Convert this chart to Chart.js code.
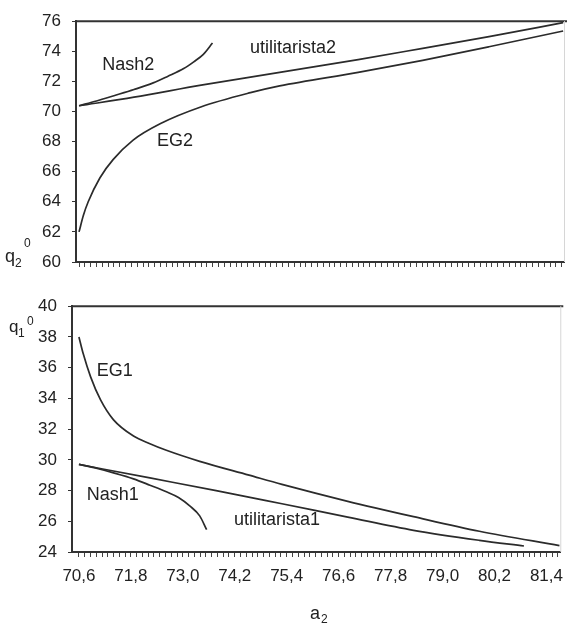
<!DOCTYPE html>
<html>
<head>
<meta charset="utf-8">
<script src="https://cdn.jsdelivr.net/npm/chart.js@4.4.0/dist/chart.umd.min.js"></script>
<style>
  html, body { margin: 0; padding: 0; background: #fff; }
  #wrap { position: relative; width: 567px; height: 624px; }
  .box { position: absolute; left: 0; width: 567px; }
</style>
</head>
<body>
<div id="wrap">
  <div class="box" style="top:0;height:285px"><canvas id="chartTop"></canvas></div>
  <div class="box" style="top:285px;height:339px"><canvas id="chartBottom"></canvas></div>
</div>
<script>
// x axis (a2)
const xTickLabels = ['70,6', '71,8', '73,0', '74,2', '75,4', '76,6', '77,8', '79,0', '80,2', '81,4'];
const xTickStart = 70.6;
const xTickStep = 1.2;
const minorPerLabel = 9;

// y axis ticks
const q2Ticks = [60, 62, 64, 66, 68, 70, 72, 74, 76];
const q1Ticks = [24, 26, 28, 30, 32, 34, 36, 38, 40];

// top panel: q2
const nash2A = [70.6, 71.0, 71.4, 71.86, 72.3, 72.63, 73.0, 73.23, 73.45, 73.66];
const nash2Q = [70.38, 70.7, 71.05, 71.46, 71.9, 72.33, 72.85, 73.3, 73.8, 74.55];
const util2A = [70.6, 71.86, 73.4, 75.2, 77.0, 78.48, 80.0, 81.7];
const util2Q = [70.38, 70.95, 71.75, 72.6, 73.45, 74.2, 74.98, 75.9];
const eg2A = [70.6, 70.7, 70.81, 71.08, 71.38, 71.84, 72.47, 73.39, 74.53, 75.2, 77.0, 78.48, 80.0, 81.7];
const eg2Q = [62.0, 63.1, 64.0, 65.6, 66.8, 68.1, 69.2, 70.3, 71.25, 71.7, 72.6, 73.4, 74.3, 75.35];

// bottom panel: q1
const eg1A = [70.6, 70.7, 70.87, 71.1, 71.4, 71.86, 72.24, 72.62, 73.39, 74.53, 75.29, 76.81, 78.33, 79.85, 81.7];
const eg1Q = [38.0, 36.9, 35.4, 33.9, 32.6, 31.55, 31.05, 30.62, 29.9, 29.0, 28.4, 27.3, 26.3, 25.35, 24.42];
const util1A = [70.6, 72.24, 73.77, 75.29, 76.81, 78.33, 79.85, 80.88];
const util1Q = [29.7, 28.82, 28.0, 27.14, 26.27, 25.41, 24.76, 24.39];
const nash1A = [70.6, 71.0, 71.4, 71.86, 72.24, 72.62, 72.9, 73.16, 73.39, 73.55];
const nash1Q = [29.7, 29.45, 29.15, 28.76, 28.35, 27.92, 27.55, 27.0, 26.35, 25.45];

const FONT = "'Liberation Sans', Arial, sans-serif";
const INK = '#222';
const LINE = '#2b2b2b';

Chart.defaults.font.family = FONT;
Chart.defaults.font.size = 17;
Chart.defaults.color = INK;

function zip(a, q) {
  return a.map((v, i) => ({ x: v, y: q[i] }));
}

function series(a, q) {
  return {
    data: zip(a, q),
    borderColor: LINE,
    borderWidth: 1.7,
    pointRadius: 0,
    fill: false,
    cubicInterpolationMode: 'monotone'
  };
}

function xScale(min, max, showLabels, height) {
  return {
    type: 'linear',
    min: min,
    max: max,
    afterBuildTicks: s => {
      const ticks = [];
      const step = xTickStep / minorPerLabel;
      for (let i = 0; xTickStart + i * step <= max + 1e-9; i++) {
        ticks.push({ value: xTickStart + i * step });
      }
      s.ticks = ticks;
    },
    afterFit: s => { s.height = height; },
    ticks: {
      display: showLabels,
      autoSkip: false,
      maxRotation: 0,
      padding: 9,
      color: INK,
      font: { size: 17 },
      callback: (v, i) => (i % minorPerLabel === 0 ? (xTickLabels[i / minorPerLabel] || '') : '')
    },
    grid: { display: true, drawOnChartArea: false, drawTicks: true, tickLength: 5, color: '#444', lineWidth: 1 },
    border: { display: true, color: '#333', width: 2 }
  };
}

function yScale(min, max, tickList, width) {
  return {
    type: 'linear',
    min: min,
    max: max,
    afterBuildTicks: s => { s.ticks = tickList.map(v => ({ value: v })); },
    afterFit: s => { s.width = width; },
    ticks: { padding: 11, color: INK, font: { size: 17 } },
    grid: { display: true, drawOnChartArea: false, drawTicks: true, tickLength: 4, color: '#333', lineWidth: 1 },
    border: { display: true, color: '#333', width: 2 }
  };
}

// frame, curve names and axis titles
const decor = {
  id: 'decor',
  afterDraw(chart, args, opts) {
    const { ctx, chartArea: ca, scales } = chart;
    ctx.save();
    ctx.strokeStyle = '#333';
    ctx.lineWidth = 2;
    ctx.beginPath();
    ctx.moveTo(ca.left, ca.top);
    ctx.lineTo(ca.right + 3, ca.top);
    ctx.stroke();
    ctx.strokeStyle = '#d6d6d6';
    ctx.lineWidth = 1;
    ctx.beginPath();
    ctx.moveTo(ca.right + 0.5, ca.top);
    ctx.lineTo(ca.right + 0.5, ca.bottom);
    ctx.stroke();

    ctx.fillStyle = INK;
    ctx.textAlign = 'left';
    ctx.textBaseline = 'middle';
    ctx.font = '18px ' + FONT;
    (opts.names || []).forEach(n => {
      ctx.fillText(n.text, scales.x.getPixelForValue(n.x), scales.y.getPixelForValue(n.y));
    });

    ctx.textBaseline = 'alphabetic';
    (opts.titles || []).forEach(t => {
      ctx.font = t.size + 'px ' + FONT;
      ctx.fillText(t.text, t.left, t.base);
    });
    ctx.restore();
  }
};

new Chart(document.getElementById('chartTop'), {
  type: 'line',
  data: {
    datasets: [series(nash2A, nash2Q), series(util2A, util2Q), series(eg2A, eg2Q)]
  },
  options: {
    responsive: true,
    maintainAspectRatio: false,
    animation: false,
    layout: { padding: { top: 15, right: 3, bottom: 0, left: 0 } },
    plugins: {
      legend: { display: false },
      tooltip: { enabled: false },
      decor: {
        names: [
          { text: 'Nash2', x: 71.13, y: 73.11 },
          { text: 'utilitarista2', x: 74.52, y: 74.22 },
          { text: 'EG2', x: 72.39, y: 68.06 }
        ],
        titles: [
          { text: 'q', size: 18, left: 5, base: 262 },
          { text: '2', size: 12, left: 15, base: 267 },
          { text: '0', size: 12, left: 24, base: 247 }
        ]
      }
    },
    scales: {
      x: xScale(70.53, 81.72, false, 23),
      y: yScale(60, 76, q2Ticks, 76)
    }
  },
  plugins: [decor]
});

new Chart(document.getElementById('chartBottom'), {
  type: 'line',
  data: {
    datasets: [series(eg1A, eg1Q), series(util1A, util1Q), series(nash1A, nash1Q)]
  },
  options: {
    responsive: true,
    maintainAspectRatio: false,
    animation: false,
    layout: { padding: { top: 20, right: 3, bottom: 0, left: 0 } },
    plugins: {
      legend: { display: false },
      tooltip: { enabled: false },
      decor: {
        names: [
          { text: 'EG1', x: 71.01, y: 35.75 },
          { text: 'Nash1', x: 70.78, y: 27.68 },
          { text: 'utilitarista1', x: 74.18, y: 26.06 }
        ],
        titles: [
          { text: 'q', size: 17, left: 9, base: 47 },
          { text: '1', size: 12, left: 18, base: 52 },
          { text: '0', size: 12, left: 27, base: 40 },
          { text: 'a', size: 18, left: 310, base: 334 },
          { text: '2', size: 12, left: 321, base: 338 }
        ]
      }
    },
    scales: {
      x: xScale(70.44, 81.72, true, 72),
      y: yScale(24, 40, q1Ticks, 72)
    }
  },
  plugins: [decor]
});
</script>
</body>
</html>
